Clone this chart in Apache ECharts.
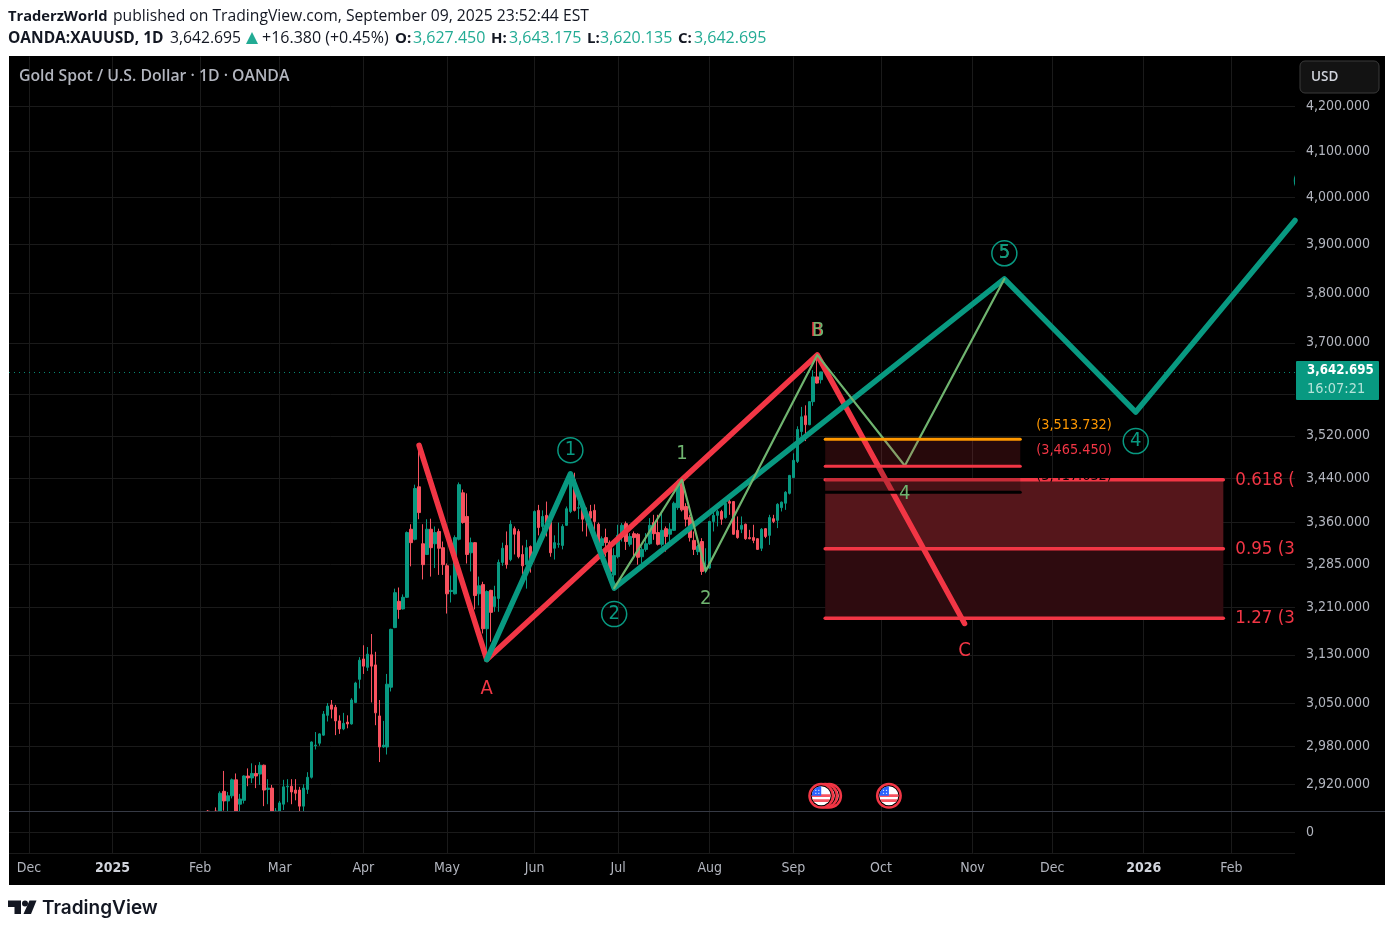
<!DOCTYPE html>
<html><head><meta charset="utf-8">
<style>html,body{margin:0;padding:0;background:#fff}#bg{position:absolute;left:9px;top:56px;width:1376px;height:829px;background:#000}#c{position:absolute;left:0;top:0;width:1394px;height:932px}</style>
<script src="https://cdn.jsdelivr.net/npm/echarts@6/dist/echarts.min.js"></script>
</head><body><div id="bg"></div><div id="c"></div>
<script>
const priceTicks=[4200,4100,4000,3900,3800,3700,3600,3520,3440,3360,3285,3210,3130,3050,2980,2920];
const monthTicks={'2024-12-02':'Dec','2025-01-02':'2025','2025-02-03':'Feb','2025-03-03':'Mar','2025-04-01':'Apr','2025-05-01':'May','2025-06-02':'Jun','2025-07-01':'Jul','2025-08-01':'Aug','2025-09-01':'Sep','2025-10-01':'Oct','2025-11-03':'Nov','2025-12-01':'Dec','2026-01-01':'2026','2026-02-02':'Feb'};
const closedDays=['2024-12-25','2025-01-01','2025-04-18'];
const firstCandleDate='2025-02-05';
// open, close, low, high (the pane cuts off everything below 2878, so those parts are read as 2878)
const candleValues=[
[2878,2878,2878,2880],'-',[2878,2878,2878,2884],[2878,2906,2878,2909],[2909,2894,2879,2941],[2894,2902,2878,2908],[2902,2927,2898,2929],[2927,2878,2878,2937],[2889,2897,2878,2905],[2895,2933,2890,2934],[2933,2930,2917,2945],[2930,2937,2922,2953],[2937,2933,2914,2950],[2936,2950,2919,2955],[2950,2911,2886,2951],[2912,2914,2889,2928],[2914,2878,2878,2919],[2878,2878,2878,2883],
[2878,2891,2878,2894],[2889,2916,2880,2927],[2916,2917,2892,2928],[2917,2908,2889,2928],[2911,2906,2895,2928],[2911,2886,2878,2916],[2886,2914,2878,2920],[2912,2931,2905,2939],[2931,2987,2929,2988],[2981,2982,2975,3003],[2985,3000,2981,3001],[2998,3032,2997,3037],[3030,3045,3020,3050],[3047,3040,3025,3055],[3043,3021,2998,3047],[3021,3008,3000,3030],[3008,3017,3006,3034],[3019,3016,3009,3030],[3016,3055,3015,3058],[3051,3083,3050,3085],[3089,3121,3074,3126],
[3123,3111,3098,3146],[3109,3131,3103,3143],[3130,3111,3051,3165],[3113,3034,3014,3135],[3029,2979,2955,3055],[2979,2982,2978,3021],[2979,3081,2967,3098],[3076,3173,3069,3174],[3176,3236,3175,3243],[3221,3207,3191,3245],[3208,3228,3207,3233],[3228,3342,3227,3344],[3348,3324,3282,3357],[3330,3422,3328,3429],[3425,3378,3366,3500],[3322,3285,3259,3357],[3303,3348,3302,3366],[3348,3315,3264,3367],[3322,3342,3279,3353],[3344,3314,3267,3349],[3315,3285,3267,3326],
[3283,3234,3200,3287],[3238,3240,3219,3266],[3234,3333,3233,3337],[3330,3429,3328,3433],[3414,3360,3358,3420],[3371,3303,3287,3413],[3306,3324,3273,3333],[3324,3231,3207,3325],[3234,3248,3214,3264],[3250,3174,3166,3255],[3174,3238,3120,3240],[3240,3202,3152,3241],[3212,3229,3203,3248],[3226,3289,3203,3294],[3289,3314,3283,3324],[3319,3285,3278,3344],[3294,3357,3291,3364],[3349,3339,3303,3353],[3344,3299,3296,3348],[3303,3283,3268,3319],[3285,3315,3243,3329],[3317,3285,3271,3319],
[3308,3380,3306,3382],[3382,3351,3337,3392],[3353,3371,3335,3382],[3373,3350,3335,3398],[3373,3306,3299,3374],[3314,3324,3294,3337],[3321,3322,3315,3360],[3319,3353,3312,3357],[3355,3385,3354,3389],[3380,3438,3377,3451],[3438,3382,3380,3451],[3386,3387,3366,3398],[3397,3366,3344,3398],[3369,3367,3335,3387],[3380,3368,3350,3392],[3382,3362,3344,3393],[3357,3320,3314,3360],[3319,3331,3302,3335],[3333,3324,3299,3349],[3324,3273,3255,3328],[3267,3301,3250,3314],
[3299,3337,3296,3356],[3335,3355,3326,3359],[3358,3326,3311,3362],[3321,3335,3317,3341],[3340,3333,3296,3344],[3339,3298,3285,3341],[3299,3312,3288,3317],[3312,3322,3308,3341],[3322,3355,3320,3368],[3360,3340,3329,3374],[3342,3321,3319,3374],[3321,3346,3317,3377],[3349,3335,3308,3353],[3339,3348,3326,3359],[3346,3395,3345,3398],[3387,3435,3383,3438],[3435,3383,3380,3439],[3389,3366,3353,3395],[3369,3333,3326,3374],[3328,3312,3302,3344],[3308,3317,3302,3320],[3326,3273,3267,3332],[3274,3280,3270,3314],
[3279,3362,3278,3363],[3362,3373,3344,3380],[3373,3380,3353,3383],[3380,3366,3356,3383],[3369,3395,3367,3398],[3398,3395,3374,3407],[3398,3339,3338,3399],[3346,3333,3331,3371],[3348,3355,3341,3371],[3357,3331,3329,3358],[3333,3331,3330,3347],[3333,3328,3323,3356],[3331,3312,3311,3332],[3314,3348,3309,3350],[3349,3335,3332,3350],[3337,3369,3320,3374],[3367,3362,3359,3374],[3364,3393,3350,3395],[3387,3397,3380,3398],[3395,3415,3383,3417],[3413,3446,3411,3447],
[3442,3474,3441,3487],[3472,3532,3469,3538],[3528,3556,3519,3575],[3558,3541,3510,3578],[3541,3585,3540,3586],[3585,3633,3577,3646],[3633,3621,3620,3672],[3627.45,3642.695,3620.135,3643.175]
];
const lastPrice=3642.695;
const correctionABC=[['2025-04-22',3502],['2025-05-15',3122],['2025-09-09',3676],['2025-10-30',3183]];
const impulseMain=[['2025-05-15',3122],['2025-06-13',3449],['2025-06-30',3244],['2025-11-13',3829],['2025-12-30',3565],['2026-02-24',3951]];
const impulseSub=[['2025-06-30',3244],['2025-07-23',3438],['2025-07-31',3274],['2025-09-09',3676],['2025-10-09',3464],['2025-11-13',3829]];
const fibZones=[['2025-09-11','2026-01-29',3438,3313,'#55161b'],['2025-09-11','2026-01-29',3313,3192,'#2e0b0f']];
const fibLevels=[['2025-09-11','2026-01-29',3438,'#f23645',3.5],['2025-09-11','2026-01-29',3313,'#f23645',3.5],['2025-09-11','2026-01-29',3192,'#f23645',3.5]];
const smallZones=[['2025-09-11','2025-11-19',3513.7,3463,'rgba(242,54,69,0.16)'],['2025-09-11','2025-11-19',3463,3415,'rgba(0,0,0,0.18)']];
const smallLevels=[['2025-09-11','2025-11-19',3513.7,'#ff9800',3],['2025-09-11','2025-11-19',3463,'#f23645',3],['2025-09-11','2025-11-19',3415,'#000000',3]];
// text, anchor date, price, colour, ring, pixel nudge of the ghost letter
const waveLabels=[
['A','2025-05-15',3074,'#f23645',0,0],['B','2025-09-09',3724,'#f23645',0,-0.5],['B','2025-09-09',3724,'#6fb46f',0,1],['C','2025-10-30',3137,'#f23645',0,0],
['1','2025-07-23',3486,'#6fb46f',0,0],['2','2025-07-31',3226,'#6fb46f',0,0],['4','2025-10-09',3412,'#6fb46f',0,0],['5','2025-11-13',3882,'#6fb46f',0,0],
['1','2025-06-13',3493,'#089981',1,0],['2','2025-06-30',3199,'#089981',1,0],['5','2025-11-13',3882,'#089981',1,0],['4','2025-12-30',3510,'#089981',1,0]];
const fibTexts=[['0.618 (3,438.200)','2026-01-29',3438],['0.95 (3,313.400)','2026-01-29',3313],['1.27 (3,192.600)','2026-01-29',3192]];
const smallTexts=[['(3,513.732)','2025-11-19',3540,'#ff9800'],['(3,465.450)','2025-11-19',3492,'#f23645'],['(3,417.632)','2025-11-19',3444,'#000000']];
const eventDates=['2025-09-12','2025-09-11','2025-09-10','2025-10-03'];
const eventPrice=2902;

const SANS="'DejaVu Sans Condensed','DejaVu Sans',sans-serif";
const HEAD="'Open Sans','Noto Sans',sans-serif";
const categories=[];
for(let d=new Date(Date.UTC(2024,10,25));d<=new Date(Date.UTC(2026,1,24));d=new Date(d.getTime()+864e5)){
  const wd=d.getUTCDay(),s=d.toISOString().slice(0,10);
  if(wd!==0&&wd!==6&&!closedDays.includes(s))categories.push(s);
}
const ix=s=>categories.indexOf(s);
const isMonth=(i,v)=>monthTicks[v]!==undefined;
const candleData=new Array(ix(firstCandleDate)).fill('-').concat(candleValues);
const fmt=v=>Number(v).toLocaleString('en-US',{minimumFractionDigits:3,maximumFractionDigits:3});
const lineSeries=(name,data,color,width,z)=>({name,type:'line',xAxisIndex:0,yAxisIndex:0,data,symbol:'none',z,smooth:false,connectNulls:true,animation:false,clip:true,
  lineStyle:{color,width,cap:'round',join:'round'}});
const rectSeries=(name,rows,z)=>({name,type:'custom',xAxisIndex:0,yAxisIndex:0,z,silent:true,animation:false,clip:true,
  encode:{x:[0,1],y:[2,3]},data:rows.map(r=>({value:[ix(r[0]),ix(r[1]),r[2],r[3]],itemStyle:{color:r[4]}})),
  renderItem(p,api){const a=api.coord([api.value(0),api.value(2)]),b=api.coord([api.value(1),api.value(3)]);
    return{type:'rect',shape:{x:a[0],y:a[1],width:b[0]-a[0],height:b[1]-a[1]},style:{fill:rows[p.dataIndex][4]}};}});
const levelSeries=(name,rows,z)=>({name,type:'custom',xAxisIndex:0,yAxisIndex:0,z,silent:true,animation:false,clip:true,
  encode:{x:[0,1],y:2},data:rows.map(r=>[ix(r[0]),ix(r[1]),r[2]]),
  renderItem(p,api){const a=api.coord([api.value(0),api.value(2)]),b=api.coord([api.value(1),api.value(2)]),r=rows[p.dataIndex];
    return{type:'line',shape:{x1:a[0],y1:a[1],x2:b[0],y2:b[1]},style:{stroke:r[3],lineWidth:r[4],lineCap:'round'}};}});
const chart=echarts.init(document.getElementById('c'),null,{renderer:'canvas'});
const txt=(x,y,text,fill,font,extra)=>Object.assign({type:'text',x,y,z:200,style:{text,fill,font,verticalAlign:'middle'}},extra||{});
const HF=(w,s)=>`${w} ${s}px ${HEAD}`;
const TEAL='#22ab94';
chart.setOption({
  backgroundColor:'transparent',animation:false,
  grid:[{left:9,right:99,top:56.5,bottom:120.5,containLabel:false},{left:9,right:99,top:811.5,bottom:79,containLabel:false}],
  xAxis:[
   {type:'category',gridIndex:0,data:categories,boundaryGap:false,axisLine:{show:false},axisTick:{show:false},axisLabel:{show:false,interval:isMonth},splitLine:{show:true,interval:isMonth,lineStyle:{color:'#1a1a1a',width:1}}},
   {type:'category',gridIndex:1,data:categories,boundaryGap:false,axisLine:{show:false},axisTick:{show:false},
    axisLabel:{show:true,interval:isMonth,margin:8,fontFamily:SANS,fontSize:14,color:'#b2b5be',hideOverlap:false,
      formatter:v=>{const t=monthTicks[v];return /^20/.test(t)?`{y|${t}}`:t},rich:{y:{fontFamily:SANS,fontSize:14,fontWeight:'bold',color:'#d1d4dc'}}},
    splitLine:{show:true,interval:isMonth,lineStyle:{color:'#1a1a1a',width:1}}}
  ],
  yAxis:[
   {type:'log',gridIndex:0,position:'right',min:2877.7,max:4314,axisLine:{show:false},axisTick:{show:false,customValues:priceTicks},
    axisLabel:{customValues:priceTicks,margin:11,fontFamily:SANS,fontSize:14,color:'#b2b5be',formatter:fmt},
    splitLine:{show:true,lineStyle:{color:'#1a1a1a',width:1}},minorSplitLine:{show:false}},
   {type:'value',gridIndex:1,position:'right',min:-1,max:1,interval:1,axisLine:{show:false},axisTick:{show:false},
    axisLabel:{margin:11,fontFamily:SANS,fontSize:14,color:'#b2b5be',formatter:v=>v===0?'0':''},
    splitLine:{show:true,lineStyle:{color:'#1a1a1a',width:1}}}
  ],
  series:[
   rectSeries('fibZones',fibZones,2),
   {name:'XAUUSD',type:'candlestick',xAxisIndex:0,yAxisIndex:0,data:candleData,barWidth:3,z:3,clip:true,
    itemStyle:{color:'#089981',color0:'#f7525f',borderColor:'#089981',borderColor0:'#f7525f',borderWidth:1},
    markLine:{silent:true,symbol:'none',animation:false,label:{show:false},lineStyle:{color:'#089981',type:[1,4],width:1,opacity:0.9},data:[{yAxis:lastPrice}]}},
   levelSeries('fibLevels',fibLevels,4),
   lineSeries('ABC',correctionABC,'#f23645',5.5,5),
   lineSeries('Impulse',impulseMain,'#089981',5.5,6),
   lineSeries('Subwave',impulseSub,'#6fb46f',2.2,7),
   rectSeries('smallZones',smallZones,8),
   levelSeries('smallLevels',smallLevels,9),
   {name:'labels',type:'custom',xAxisIndex:0,yAxisIndex:0,z:10,silent:true,animation:false,clip:true,encode:{x:0,y:1},
    data:waveLabels.map(r=>[ix(r[1]),r[2]]),
    renderItem(p,api){const c=api.coord([api.value(0),api.value(1)]),r=waveLabels[p.dataIndex];const kids=[];
      if(r[4])kids.push({type:'circle',shape:{cx:0,cy:0,r:12.5},style:{fill:'none',stroke:r[3],lineWidth:1.5}});
      kids.push({type:'text',x:r[5],y:0,style:{text:r[0],fill:r[3],font:`20px ${SANS}`,align:'center',verticalAlign:'middle'}});
      return{type:'group',x:c[0],y:c[1],children:kids};}},
   {name:'edgeRing',type:'custom',xAxisIndex:0,yAxisIndex:0,z:10,silent:true,animation:false,clip:true,encode:{x:0,y:1},
    data:[[categories.length-1,4036]],
    renderItem(p,api){const c=api.coord([api.value(0),api.value(1)]);
      return{type:'circle',shape:{cx:c[0]+12,cy:c[1],r:12.5},style:{fill:'none',stroke:'#089981',lineWidth:1.5}};}},
   {name:'fibTexts',type:'custom',xAxisIndex:0,yAxisIndex:0,z:10,silent:true,animation:false,clip:true,encode:{x:0,y:1},
    data:fibTexts.map(r=>[ix(r[1]),r[2]]),
    renderItem(p,api){const c=api.coord([api.value(0),api.value(1)]);
      return{type:'text',x:c[0]+12,y:c[1],style:{text:fibTexts[p.dataIndex][0],fill:'#f23645',font:`18.5px ${SANS}`,align:'left',verticalAlign:'middle'}};}},
   {name:'smallTexts',type:'custom',xAxisIndex:0,yAxisIndex:0,z:11,silent:true,animation:false,clip:true,encode:{x:0,y:1},
    data:smallTexts.map(r=>[ix(r[1]),r[2]]),
    renderItem(p,api){const c=api.coord([api.value(0),api.value(1)]),r=smallTexts[p.dataIndex];
      return{type:'text',x:c[0]+16,y:c[1],style:{text:r[0],fill:r[3],font:`14.3px ${SANS}`,align:'left',verticalAlign:'middle'}};}},
   {name:'events',type:'custom',xAxisIndex:0,yAxisIndex:0,z:12,silent:true,animation:false,clip:true,encode:{x:0,y:1},
    data:eventDates.map(d=>[ix(d),eventPrice]),
    renderItem(p,api){const c=api.coord([api.value(0),api.value(1)]);const clip={type:'circle',shape:{cx:0,cy:0,r:9.5}};
      const kids=[{type:'circle',shape:{cx:0,cy:0,r:13},style:{fill:'#f23645'}},{type:'circle',shape:{cx:0,cy:0,r:10.5},style:{fill:'#000'}},
       {type:'circle',shape:{cx:0,cy:0,r:9.5},style:{fill:'#ffffff'}}];
      [-1.5,3.5].forEach(y=>kids.push({type:'rect',clipPath:clip,shape:{x:-10,y,width:20,height:2.8},style:{fill:'#f7525f'}}));
      kids.push({type:'rect',clipPath:clip,shape:{x:-10,y:-10,width:10,height:10},style:{fill:'#2962ff'}});
      [[-6,-6],[-3,-6],[-6,-3],[-3,-3]].forEach(q=>kids.push({type:'rect',shape:{x:q[0],y:q[1],width:1.2,height:1.2},style:{fill:'#cfe0ff'}}));
      return{type:'group',x:c[0],y:c[1],children:kids};}},
   {name:'pane2',type:'line',xAxisIndex:1,yAxisIndex:1,data:[],symbol:'none'}
  ],
  graphic:{elements:[
   {type:'line',z:150,shape:{x1:9,y1:811.5,x2:1385,y2:811.5},style:{stroke:'#363a45',lineWidth:1}},
   txt(19,76.5,'Gold Spot / U.S. Dollar · 1D · OANDA','#b2b5be',HF(600,15.8)),
   {type:'rect',z:200,shape:{x:1300,y:61,width:79,height:32,r:5},style:{fill:'#131313',stroke:'#3a3a3a',lineWidth:1}},
   txt(1311,77,'USD','#d1d4dc',HF(600,13.5)),
   {type:'rect',z:200,shape:{x:1296,y:361,width:83,height:39,r:1},style:{fill:'#089981'}},
   txt(1307,371,'3,642.695','#ffffff',`bold 13.2px ${SANS}`),
   txt(1307,389,'16:07:21','#b5e3d9',`14.4px ${SANS}`),
   txt(8,16.5,'TraderzWorld','#131722',HF(700,14.7)),
   txt(113,16.5,'published on TradingView.com, September 09, 2025 23:52:44 EST','#131722',HF(400,15.7)),
   txt(8,38.5,'OANDA:XAUUSD, 1D','#131722',HF(700,15.5)),
   txt(170,38.5,'3,642.695','#131722',HF(400,15.7)),
   {type:'polygon',z:200,shape:{points:[[246,44],[258,44],[252,32]]},style:{fill:TEAL}},
   txt(262,38.5,'+16.380 (+0.45%)','#131722',HF(400,16)),
   txt(395,38.5,'O:','#131722',HF(700,15)),txt(413,38.5,'3,627.450',TEAL,HF(400,16)),
   txt(491,38.5,'H:','#131722',HF(700,15)),txt(509,38.5,'3,643.175',TEAL,HF(400,16)),
   txt(587,38.5,'L:','#131722',HF(700,15)),txt(600,38.5,'3,620.135',TEAL,HF(400,16)),
   txt(678,38.5,'C:','#131722',HF(700,15)),txt(694,38.5,'3,642.695',TEAL,HF(400,16)),
   {type:'polygon',z:200,shape:{points:[[8,900.5],[21,900.5],[21,914],[14.5,914],[14.5,907],[8,907]]},style:{fill:'#131722'}},
   {type:'circle',z:200,shape:{cx:25,cy:903.5,r:3},style:{fill:'#131722'}},
   {type:'polygon',z:200,shape:{points:[[29.5,900.5],[36.5,900.5],[31,914],[23.5,914]]},style:{fill:'#131722'}},
   txt(42,908,'TradingView','#131722',"600 19px Inter,'Noto Sans',sans-serif")
  ]}
});
</script></body></html>
